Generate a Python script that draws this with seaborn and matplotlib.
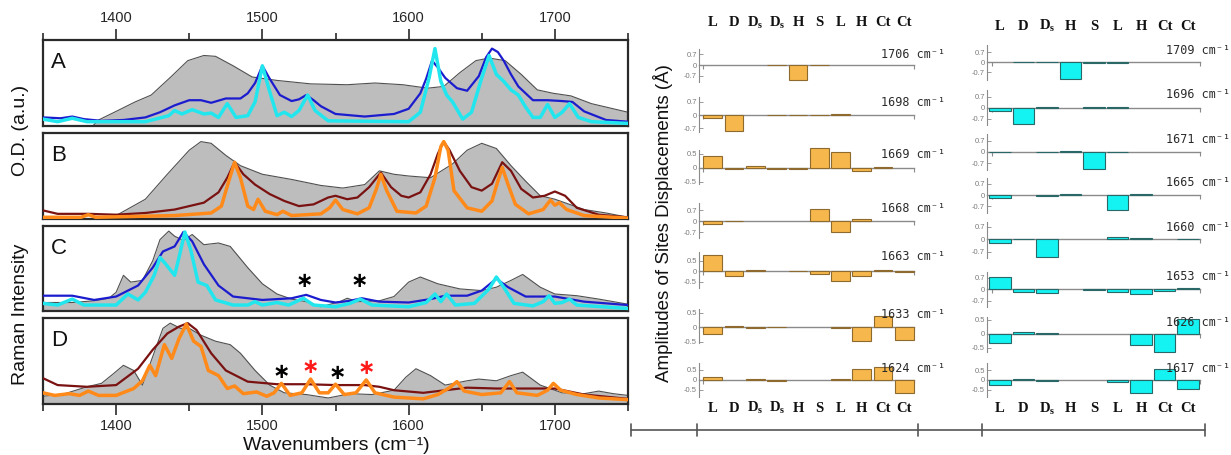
import numpy as np
import pandas as pd
import matplotlib
matplotlib.use("Agg")
import matplotlib.pyplot as plt
from matplotlib.lines import Line2D
from matplotlib.ticker import FixedLocator, MultipleLocator
from matplotlib.transforms import blended_transform_factory
import seaborn as sns

sns.set_theme(style="white")
plt.rcParams['font.family'] = ['Liberation Sans', 'DejaVu Sans']
plt.rcParams['mathtext.fontset'] = 'custom'
plt.rcParams['mathtext.rm'] = 'Liberation Serif:bold'
plt.rcParams['mathtext.bf'] = 'Liberation Serif:bold'
plt.rcParams['mathtext.it'] = 'Liberation Serif:bold'

# ---------------- spectra data (wavenumber, normalised intensity) ----------------
A_abs = [(1350,0),(1384,0),(1388,0.07),(1400,0.17),(1413,0.28),(1424,0.36),(1438,0.58),(1449,0.76),
         (1460,0.82),(1468,0.81),(1480,0.70),(1493,0.57),(1510,0.53),(1533,0.49),(1558,0.48),(1577,0.50),
         (1596,0.48),(1613,0.44),(1624,0.46),(1635,0.62),(1646,0.76),(1655,0.79),(1666,0.76),(1677,0.60),
         (1688,0.42),(1699,0.38),(1711,0.35),(1725,0.26),(1750,0.16)]
A_blue = [(1350,0.10),(1362,0.09),(1370,0.11),(1378,0.08),(1390,0.06),(1405,0.07),(1420,0.10),(1430,0.16),
          (1440,0.24),(1450,0.30),(1458,0.30),(1465,0.27),(1475,0.32),(1485,0.32),(1490,0.38),(1495,0.50),
          (1500,0.70),(1505,0.55),(1512,0.36),(1520,0.29),(1525,0.31),(1530,0.36),(1535,0.30),(1540,0.23),
          (1550,0.14),(1570,0.11),(1590,0.14),(1600,0.20),(1608,0.38),(1612,0.55),(1616,0.76),(1620,0.68),
          (1625,0.56),(1633,0.44),(1640,0.41),(1648,0.58),(1653,0.80),(1657,0.90),(1661,0.86),(1665,0.76),
          (1670,0.60),(1675,0.46),(1685,0.30),(1695,0.30),(1705,0.29),(1712,0.28),(1720,0.17),(1735,0.07),
          (1750,0.05)]
A_cyan = [(1350,0.08),(1360,0.05),(1370,0.09),(1380,0.05),(1420,0.05),(1436,0.12),(1440,0.18),(1445,0.14),
          (1452,0.19),(1460,0.14),(1465,0.15),(1470,0.10),(1476,0.26),(1482,0.10),(1490,0.12),(1495,0.28),
          (1500,0.70),(1505,0.40),(1510,0.12),(1515,0.16),(1520,0.11),(1525,0.18),(1531,0.36),(1536,0.18),
          (1545,0.06),(1600,0.05),(1608,0.16),(1614,0.56),(1618,0.90),(1622,0.52),(1626,0.36),(1630,0.28),
          (1637,0.08),(1643,0.16),(1650,0.56),(1655,0.82),(1660,0.60),(1665,0.52),(1670,0.42),(1675,0.36),
          (1680,0.22),(1685,0.10),(1690,0.10),(1695,0.25),(1700,0.10),(1705,0.16),(1710,0.26),(1716,0.10),
          (1725,0.05),(1750,0.03)]

B_abs = [(1350,0),(1388,0),(1400,0.04),(1420,0.23),(1435,0.52),(1450,0.80),(1458,0.90),(1465,0.88),
         (1475,0.74),(1485,0.62),(1500,0.52),(1520,0.46),(1540,0.39),(1555,0.36),(1570,0.40),(1580,0.56),
         (1590,0.52),(1600,0.50),(1615,0.48),(1630,0.64),(1640,0.80),(1650,0.88),(1660,0.82),(1670,0.62),
         (1680,0.44),(1690,0.27),(1700,0.23),(1710,0.17),(1720,0.11),(1735,0.07),(1750,0.02)]
B_red = [(1350,0.10),(1360,0.06),(1381,0.06),(1400,0.05),(1420,0.07),(1440,0.11),(1460,0.19),(1470,0.31),
         (1476,0.48),(1481,0.66),(1487,0.52),(1495,0.40),(1505,0.29),(1515,0.21),(1525,0.15),(1535,0.17),
         (1545,0.25),(1550,0.27),(1558,0.23),(1565,0.25),(1573,0.37),(1581,0.54),(1588,0.37),(1595,0.27),
         (1600,0.25),(1608,0.31),(1615,0.52),(1620,0.76),(1624,0.90),(1628,0.80),(1635,0.56),(1643,0.37),
         (1650,0.33),(1657,0.41),(1664,0.66),(1670,0.56),(1677,0.35),(1685,0.25),(1693,0.27),(1700,0.32),
         (1707,0.27),(1715,0.13),(1730,0.05),(1750,0.02)]
B_orange = [(1350,0.02),(1376,0.02),(1381,0.05),(1386,0.02),(1440,0.04),(1465,0.07),(1472,0.15),(1477,0.44),
            (1481,0.66),(1485,0.48),(1490,0.15),(1494,0.11),(1497,0.23),(1502,0.09),(1510,0.05),(1514,0.09),
            (1520,0.04),(1540,0.06),(1546,0.13),(1550,0.22),(1555,0.11),(1565,0.06),(1573,0.13),(1578,0.35),
            (1581,0.52),(1585,0.33),(1592,0.09),(1605,0.07),(1612,0.15),(1618,0.48),(1622,0.84),(1624,0.90),
            (1627,0.80),(1631,0.33),(1640,0.13),(1650,0.09),(1657,0.21),(1661,0.44),(1664,0.60),(1668,0.40),
            (1673,0.17),(1682,0.06),(1692,0.11),(1697,0.22),(1700,0.16),(1703,0.19),(1708,0.11),(1720,0.04),
            (1750,0.01)]

C_raman = [(1350,0.10),(1370,0.10),(1385,0.12),(1395,0.15),(1400,0.22),(1405,0.42),(1410,0.34),(1418,0.36),
           (1425,0.59),(1430,0.84),(1436,0.94),(1440,0.88),(1446,0.83),(1452,0.90),(1460,0.78),(1470,0.80),
           (1478,0.76),(1490,0.51),(1500,0.32),(1510,0.20),(1520,0.14),(1530,0.11),(1540,0.05),(1553,0.11),
           (1558,0.15),(1565,0.11),(1580,0.12),(1590,0.17),(1600,0.34),(1608,0.40),(1620,0.32),(1635,0.26),
           (1650,0.24),(1660,0.28),(1670,0.36),(1678,0.43),(1690,0.28),(1700,0.20),(1715,0.18),(1730,0.14),
           (1750,0.08)]
C_blue = [(1350,0.18),(1370,0.18),(1385,0.13),(1400,0.17),(1415,0.30),(1425,0.51),(1432,0.70),(1440,0.76),
          (1446,0.93),(1452,0.82),(1460,0.55),(1470,0.30),(1480,0.17),(1500,0.13),(1520,0.15),(1530,0.19),
          (1540,0.13),(1550,0.10),(1560,0.12),(1568,0.15),(1580,0.11),(1600,0.10),(1615,0.14),(1625,0.18),
          (1640,0.18),(1650,0.24),(1660,0.38),(1668,0.28),(1680,0.17),(1700,0.17),(1720,0.11),(1750,0.07)]
C_cyan = [(1350,0.09),(1360,0.07),(1370,0.14),(1378,0.07),(1400,0.07),(1408,0.20),(1415,0.13),(1420,0.22),
          (1426,0.42),(1430,0.63),(1434,0.55),(1440,0.42),(1443,0.63),(1447,0.93),(1451,0.72),(1456,0.34),
          (1462,0.30),(1468,0.13),(1480,0.07),(1490,0.07),(1495,0.11),(1500,0.07),(1510,0.10),(1518,0.07),
          (1528,0.15),(1535,0.07),(1550,0.05),(1560,0.09),(1567,0.14),(1575,0.07),(1600,0.05),(1612,0.10),
          (1618,0.20),(1622,0.11),(1626,0.20),(1632,0.07),(1645,0.09),(1655,0.26),(1660,0.40),(1665,0.28),
          (1672,0.09),(1685,0.06),(1692,0.11),(1696,0.18),(1700,0.09),(1705,0.10),(1710,0.14),(1715,0.07),
          (1750,0.03)]

D_raman = [(1350,0.09),(1365,0.12),(1380,0.20),(1390,0.24),(1398,0.35),(1405,0.45),(1412,0.39),(1418,0.22),
           (1425,0.55),(1432,0.88),(1437,0.94),(1444,0.88),(1450,0.88),(1458,0.80),(1468,0.73),(1478,0.69),
           (1485,0.59),(1495,0.39),(1505,0.22),(1515,0.13),(1530,0.11),(1545,0.07),(1560,0.12),(1575,0.11),
           (1590,0.16),(1598,0.31),(1605,0.41),(1615,0.33),(1625,0.22),(1640,0.27),(1648,0.29),(1660,0.27),
           (1670,0.33),(1678,0.37),(1690,0.22),(1705,0.13),(1720,0.12),(1730,0.15),(1740,0.12),(1750,0.10)]
D_red = [(1350,0.30),(1360,0.22),(1380,0.20),(1400,0.22),(1415,0.41),(1425,0.63),(1435,0.82),(1443,0.90),
         (1449,0.94),(1455,0.86),(1465,0.59),(1475,0.39),(1490,0.26),(1510,0.23),(1530,0.23),(1550,0.22),
         (1570,0.22),(1580,0.20),(1590,0.16),(1610,0.13),(1625,0.16),(1640,0.19),(1660,0.18),(1680,0.18),
         (1700,0.18),(1720,0.11),(1750,0.06)]
D_orange = [(1350,0.13),(1358,0.10),(1368,0.12),(1375,0.10),(1381,0.15),(1388,0.10),(1400,0.10),(1412,0.18),
            (1418,0.27),(1423,0.45),(1427,0.33),(1433,0.69),(1438,0.53),(1443,0.76),(1448,0.93),(1453,0.73),
            (1458,0.67),(1463,0.39),(1470,0.33),(1476,0.18),(1481,0.21),(1487,0.12),(1496,0.14),(1503,0.09),
            (1508,0.13),(1513,0.24),(1519,0.10),(1527,0.13),(1533,0.29),(1539,0.13),(1545,0.13),(1550,0.23),
            (1556,0.11),(1564,0.13),(1571,0.28),(1577,0.13),(1590,0.08),(1610,0.06),(1620,0.11),(1628,0.19),
            (1633,0.26),(1638,0.15),(1650,0.11),(1663,0.13),(1669,0.26),(1674,0.13),(1688,0.10),(1695,0.16),
            (1699,0.24),(1704,0.16),(1715,0.11),(1730,0.07),(1750,0.05)]

C_star_x = [1529, 1566]
C_star_y = [0.35, 0.35]
C_star_c = ['black', 'black']
D_star_x = [1513, 1533, 1551, 1571]
D_star_y = [0.37, 0.43, 0.36, 0.42]
D_star_c = ['black', '#ff1a1a', 'black', '#ff1a1a']

# ---------------- bar data ----------------
cats_left = ['L', 'D', r'D$_{\mathbf{s}}$', r'D$_{\mathbf{s}}$', 'H', 'S', 'L', 'H', 'Ct', 'Ct']
cats_right = ['L', 'D', r'D$_{\mathbf{s}}$', 'H', 'S', 'L', 'H', 'Ct', 'Ct']

freq_left = [1706, 1698, 1669, 1668, 1663, 1633, 1624]
amp_1706 = [0, 0, 0, 0.03, -0.97, -0.03, 0, 0, 0, 0]
amp_1698 = [-0.17, -0.85, 0, 0.02, 0.02, 0.02, 0.05, 0, 0, 0]
amp_1669 = [0.41, -0.03, 0.05, -0.03, -0.05, 0.70, 0.55, -0.12, 0.02, 0]
amp_1668 = [-0.19, 0.05, 0, 0, 0, 0.75, -0.65, 0.16, 0, 0]
amp_1663 = [0.78, -0.24, 0.05, 0, 0.02, -0.14, -0.48, -0.22, 0.05, -0.04]
amp_1633 = [-0.23, 0.04, -0.03, 0.02, 0, 0, -0.03, -0.47, 0.38, -0.44]
amp_1624 = [0.13, 0, 0.04, -0.03, 0, 0, 0.04, 0.57, 0.67, -0.67]
amps_left = [amp_1706, amp_1698, amp_1669, amp_1668, amp_1663, amp_1633, amp_1624]
tick_left = [0.7, 0.7, 0.5, 0.7, 0.5, 0.5, 0.5]

freq_right = [1709, 1696, 1671, 1665, 1660, 1653, 1626, 1617]
amp_1709 = [0, 0.02, 0.02, -1.17, -0.02, -0.02, 0, 0, 0]
amp_1696 = [-0.19, -1.04, 0.02, 0, 0.05, 0.05, 0, 0, 0]
amp_1671 = [-0.02, 0, 0.02, 0.05, -1.07, 0.02, 0, 0, 0]
amp_1665 = [-0.20, 0, -0.05, 0.04, 0, -0.93, 0.08, 0, 0]
amp_1660 = [-0.23, 0.02, -1.02, 0, 0, 0.15, 0.08, 0, 0.03]
amp_1653 = [0.77, -0.18, -0.25, 0, -0.03, -0.17, -0.29, -0.12, 0.10]
amp_1626 = [-0.31, 0.07, 0.05, 0, 0, 0, -0.40, -0.65, 0.54]
amp_1617 = [-0.28, 0.03, -0.04, 0, 0, -0.08, -0.69, 0.59, -0.47]
amps_right = [amp_1709, amp_1696, amp_1671, amp_1665, amp_1660, amp_1653, amp_1626, amp_1617]
tick_right = [0.7, 0.7, 0.7, 0.7, 0.7, 0.7, 0.5, 0.5]

# ---------------- layout (pixels) ----------------
W, H = 1231, 455
fig = plt.figure(figsize=(W / 100, H / 100), dpi=100)
fig.patch.set_facecolor('white')


def add_ax(x0, y0, x1, y1):
    return fig.add_axes([x0 / W, 1 - y1 / H, (x1 - x0) / W, (y1 - y0) / H])


spec_x0, spec_x1 = 43, 628
spec_rows = [(40, 126), (133, 219), (226, 311), (318, 404)]
letters = ['A', 'B', 'C', 'D']
spectra = [
    (A_abs, A_blue, A_cyan, '#1c1ccf', '#22e6ee'),
    (B_abs, B_red, B_orange, '#7a1212', '#ff8a1a'),
    (C_raman, C_blue, C_cyan, '#1c1ccf', '#22e6ee'),
    (D_raman, D_red, D_orange, '#7a1212', '#ff8a1a'),
]

spec_axes = []
for i, ((gray, dark, light, dcol, lcol), (y0, y1)) in enumerate(zip(spectra, spec_rows)):
    ax = add_ax(spec_x0, y0, spec_x1, y1)
    gx, gy = zip(*gray)
    ax.fill_between(gx, 0, gy, color='#bdbdbd', lw=0, zorder=1)
    sns.lineplot(x=list(gx), y=list(gy), color='#505050', lw=0.8, ax=ax, zorder=2)
    dx, dy = zip(*dark)
    sns.lineplot(x=list(dx), y=list(dy), color=dcol, lw=1.6, ax=ax, zorder=3)
    lx, ly = zip(*light)
    sns.lineplot(x=list(lx), y=list(ly), color=lcol, lw=2.5, ax=ax, zorder=4)
    ax.set_xlim(1350, 1750)
    ax.set_ylim(0, 1)
    ax.set_xlabel('')
    ax.set_ylabel('')
    ax.set_yticks([])
    for sp in ax.spines.values():
        sp.set_color('#2a2a2a')
        sp.set_linewidth(1.6)
    ax.text(8 / (spec_x1 - spec_x0), 0.74, letters[i], transform=ax.transAxes,
            fontsize=16, ha='left', va='center', color='#111111')
    ax.xaxis.set_major_locator(FixedLocator([1400, 1500, 1600, 1700]))
    ax.xaxis.set_minor_locator(MultipleLocator(50))
    if i == 0:
        ax.xaxis.tick_top()
        ax.tick_params(axis='x', which='major', top=True, bottom=False, direction='out',
                       length=8, width=1.2, color='#2a2a2a', labelsize=10.5, pad=3)
        ax.tick_params(axis='x', which='minor', top=True, bottom=False, direction='out',
                       length=5, width=1.2, color='#2a2a2a')
    elif i == 3:
        ax.tick_params(axis='x', which='major', bottom=True, top=False, direction='out',
                       length=8, width=1.2, color='#2a2a2a', labelsize=10.5, pad=3)
        ax.tick_params(axis='x', which='minor', bottom=True, top=False, direction='out',
                       length=5, width=1.2, color='#2a2a2a')
    else:
        ax.tick_params(axis='x', which='both', bottom=False, top=False, labelbottom=False,
                       labeltop=False)
    spec_axes.append(ax)

for ax, sx, sy, sc in [(spec_axes[2], C_star_x, C_star_y, C_star_c),
                       (spec_axes[3], D_star_x, D_star_y, D_star_c)]:
    for x, y, c in zip(sx, sy, sc):
        ax.text(x, y, '\u2217', color=c, fontsize=15, fontweight='bold', ha='center',
                va='center', family=['DejaVu Sans'], zorder=6)

fig.text(21 / W, 1 - 130 / H, 'O.D. (a.u.)', rotation=90, ha='center', va='center',
         fontsize=14, color='#111111')
fig.text(21 / W, 1 - 314 / H, 'Raman Intensity', rotation=90, ha='center', va='center',
         fontsize=14, color='#111111')
fig.text(336 / W, 1 - 445 / H, 'Wavenumbers (cm\u207b\u00b9)', ha='center', va='center',
         fontsize=14, color='#111111')

# ---------------- bar panels ----------------
left_rows = [(49, 82, 65), (97, 132, 115), (150, 184, 167.7), (203, 238, 221.3),
             (252, 288, 271), (309, 343, 327.3), (363, 397, 380)]
left_scale = [15.5, 18.6, 28.4, 15.9, 21.0, 29.0, 20.0]
right_rows = [(45, 80, 62.3), (90, 125, 107.7), (134, 170, 152), (178, 213, 195),
              (222, 258, 239.3), (272, 307, 289.3), (317, 352, 334), (363, 397, 380)]
right_scale = [14.3, 15.9, 16.1, 16.1, 17.6, 16.3, 28.0, 19.3]

columns = [
    dict(cats=cats_left, freqs=freq_left, amps=amps_left, ticks=tick_left, rows=left_rows,
         scale=left_scale, x0=699, x1=914, xlim=(-0.65, 9.45), bw=0.88,
         color='#f6b84c', edge='#8e6a2e', label_x=945, top_y=23, bot_y=408),
    dict(cats=cats_right, freqs=freq_right, amps=amps_right, ticks=tick_right, rows=right_rows,
         scale=right_scale, x0=987, x1=1200, xlim=(-0.55, 8.51), bw=0.92,
         color='#14f2f2', edge='#2a6868', label_x=1230, top_y=26, bot_y=409),
]

for col in columns:
    axes_col = []
    for k, (freq, amp, tk, (top, bot, zero), s) in enumerate(
            zip(col['freqs'], col['amps'], col['ticks'], col['rows'], col['scale'])):
        ax = add_ax(col['x0'], top, col['x1'], bot)
        ax.patch.set_alpha(0)
        df = pd.DataFrame({'pos': np.arange(len(amp)), 'amp': amp})
        sns.barplot(data=df, x='pos', y='amp', color=col['color'], edgecolor=col['edge'],
                    linewidth=0.8, width=col['bw'], saturation=1, errorbar=None, ax=ax, zorder=3)
        for p in ax.patches:
            p.set_clip_on(False)
            if abs(p.get_height()) < 1e-9:
                p.set_visible(False)
        ax.set_xlim(*col['xlim'])
        ax.set_ylim(-(bot - zero) / s, (zero - top) / s)
        ax.set_xlabel('')
        ax.set_ylabel('')
        ax.spines['top'].set_visible(False)
        ax.spines['right'].set_visible(False)
        ax.spines['left'].set_color('#8a8a8a')
        ax.spines['left'].set_linewidth(0.8)
        ax.spines['bottom'].set_position(('data', 0))
        ax.spines['bottom'].set_color('#8a8a8a')
        ax.spines['bottom'].set_linewidth(1.0)
        ax.spines['bottom'].set_zorder(2)
        ax.set_xticks([col['xlim'][0] + 0.2, col['xlim'][1] - 0.02])
        ax.set_xticklabels(['', ''])
        ax.tick_params(axis='x', direction='out', length=3, width=0.8, color='#8a8a8a',
                       bottom=True, pad=0)
        ax.set_yticks([tk, 0, -tk])
        ax.set_yticklabels([f'{tk:g}', '0', f'-{tk:g}'])
        ax.tick_params(axis='y', direction='in', length=3, width=0.6, color='#8a8a8a',
                       left=True, labelsize=5.5, labelcolor='#7a7a7a', pad=1.5)
        tr = blended_transform_factory(fig.transFigure, ax.transAxes)
        ax.text(col['label_x'] / W, 1 - 5 / (bot - top), f'{freq} cm\u207b\u00b9', transform=tr,
                ha='right', va='center', fontsize=8.5, color='#2a2a2a',
                family=['DejaVu Sans Mono', 'DejaVu Sans'])
        axes_col.append(ax)
    for ax, ypx in [(axes_col[0], col['top_y']), (axes_col[-1], col['bot_y'])]:
        tr = blended_transform_factory(ax.transData, fig.transFigure)
        for j, c in enumerate(col['cats']):
            ax.text(j, 1 - ypx / H, c, transform=tr, ha='center', va='center', fontsize=10.5,
                    fontweight='bold', family=['Liberation Serif', 'DejaVu Serif'], color='#111111')

fig.text(663 / W, 1 - 223 / H, 'Amplitudes of Sites Displacements (Å)', rotation=90,
         ha='center', va='center', fontsize=13.5, color='#111111')

# bracket line under the bar panels
ly = 1 - 430 / H
fig.add_artist(Line2D([631 / W, 1205 / W], [ly, ly], transform=fig.transFigure,
                      color='#555555', lw=1.2))
for xp in [631, 697, 918, 982, 1205]:
    fig.add_artist(Line2D([xp / W, xp / W], [1 - 424 / H, 1 - 436 / H],
                          transform=fig.transFigure, color='#555555', lw=1.2))

fig.savefig('out.png', dpi=100, facecolor='white')
